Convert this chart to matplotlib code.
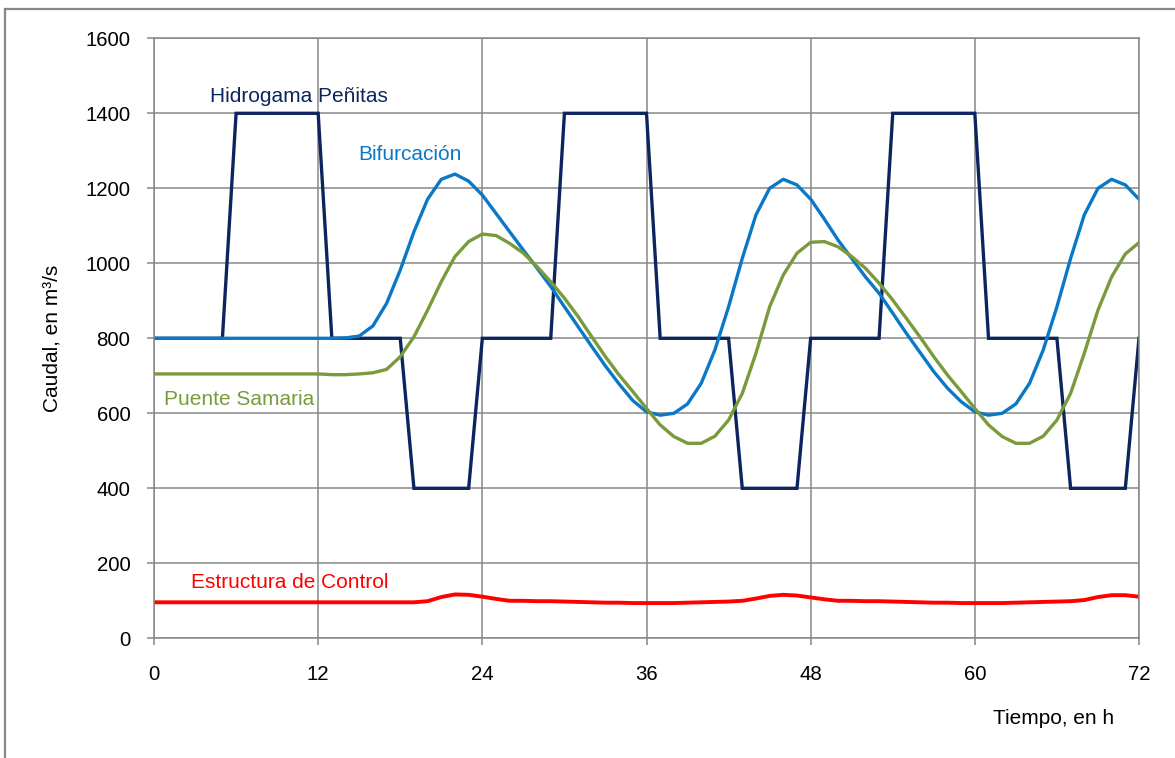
import numpy as np
import matplotlib
matplotlib.use("Agg")
from matplotlib import pyplot as plt
from matplotlib.lines import Line2D

plt.rcParams['font.family'] = ['Liberation Sans', 'DejaVu Sans']

# hourly values
horas = list(range(73))

penitas = ([800]*6 + [1400]*7 + [800]*6 + [400]*5) * 3 + [800]

bifurcacion = [800]*14 + [
    801, 806, 833, 893, 982, 1084, 1171, 1224, 1238, 1219,
    1182, 1133, 1084, 1035, 987, 938, 884, 831, 778, 726,
    678, 634, 604, 595, 600, 625, 680, 769, 884, 1013,
    1129, 1200, 1224, 1209, 1171, 1118, 1062, 1013, 964, 920,
    867, 813, 762, 711, 667, 631, 604, 595, 600, 625,
    680, 769, 884, 1013, 1129, 1200, 1224, 1209, 1171]

samaria = [705]*13 + [703, 703] + [
    705, 708, 717, 751, 804, 875, 951, 1018, 1058, 1078,
    1074, 1053, 1027, 991, 951, 907, 858, 804, 751, 702,
    658, 613, 569, 538, 520, 520, 539, 582, 653, 760,
    884, 969, 1027, 1056, 1058, 1044, 1018, 987, 947, 902,
    853, 803, 751, 702, 658, 613, 569, 538, 520, 520,
    539, 582, 653, 760, 875, 964, 1025, 1055]

control = [96]*20 + [
    99, 110, 117, 116, 111, 105, 100, 100, 99, 99,
    98, 97, 96, 95, 95, 94, 94, 94, 94, 95,
    96, 97, 98, 100, 106, 113, 116, 114, 109, 104,
    100, 100, 99, 99, 98, 97, 96, 95, 95, 94,
    94, 94, 94, 95, 96, 97, 98, 99, 102, 110,
    115, 115, 111]

xticks = list(range(0, 73, 12))
yticks = list(range(0, 1601, 200))

grey = '#878787'
fs = 15

fig = plt.figure(figsize=(11.75, 7.58), dpi=100)
ax = fig.add_axes([154/1175, 1 - 638.3/758, (1139-154)/1175, (638.3-38.3)/758])

ax.plot(horas, penitas, color='#0C255E', lw=2.4, solid_joinstyle='miter')
ax.plot(horas, bifurcacion, color='#0A78C6', lw=2.4)
ax.plot(horas, samaria, color='#7A9A3C', lw=2.4)
ax.plot(horas, control, color='#FF0000', lw=2.8)

ax.text(4.1, 1446, 'Hidrogama Peñitas', color='#0C255E', fontsize=fs, va='center')
ax.text(14.9, 1289, 'Bifurcación', color='#0A78C6', fontsize=fs, va='center')
ax.text(0.7, 637, 'Puente Samaria', color='#7A9A3C', fontsize=fs, va='center')
ax.text(2.7, 150, 'Estructura de Control', color='#FF0000', fontsize=fs, va='center')

ax.set_xlim(0, 72)
ax.set_ylim(0, 1600)
ax.set_xticks(xticks)
ax.set_yticks(yticks)
ax.grid(True, color=grey, lw=1.1)
ax.set_axisbelow(True)
for s in ax.spines.values():
    s.set_color(grey)
    s.set_linewidth(1.1)
ax.tick_params(colors=grey, labelcolor='black', labelsize=14.7, length=5, width=1.1)
ax.tick_params(axis='y', pad=12)
ax.tick_params(axis='x', pad=14)

ax.set_ylabel('Caudal, en m³/s', fontsize=fs)
ax.yaxis.set_label_coords(-92/985, 0.5)
fig.text(1054/1175, 1 - 719/758, 'Tiempo, en h', fontsize=fs, ha='center', va='center')

# outer chart frame (only top and left visible)
fig.add_artist(Line2D([5/1175, 5/1175], [0, 1 - 9/758], color=grey, lw=1.6))
fig.add_artist(Line2D([5/1175, 1], [1 - 9/758, 1 - 9/758], color=grey, lw=1.6))

fig.savefig('out.png', dpi=100)
